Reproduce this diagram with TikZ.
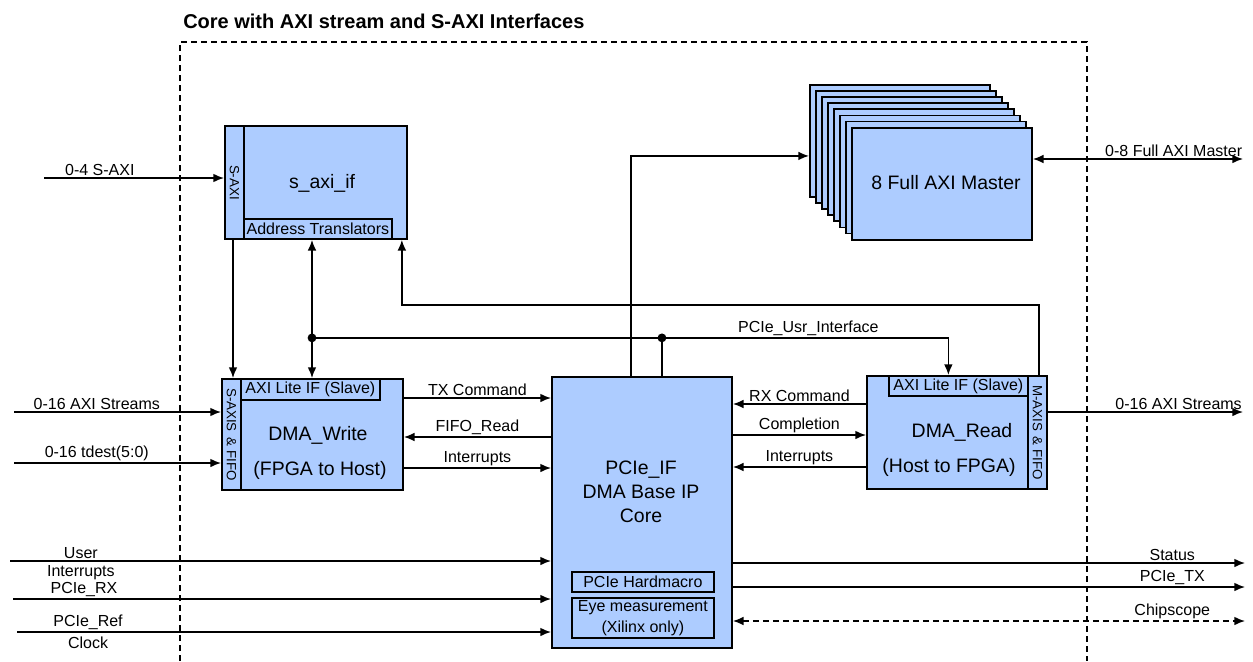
\documentclass[tikz,border=0pt]{standalone}
\usepackage{fontspec}
\setmainfont{Liberation Sans}
\usetikzlibrary{arrows.meta,calc,positioning}
\definecolor{blockblue}{RGB}{173,204,255}
\newcommand{\lblfont}{\fontsize{12}{15.5}\selectfont}
\newcommand{\bigfont}{\fontsize{14.6}{18}\selectfont}
\newcommand{\stripfont}{\fontsize{10}{12}\selectfont}
\tikzstyle{block} = [rectangle, draw, fill=blockblue, line width=1.4pt,
    inner sep=0pt, anchor=north west]
\tikzstyle{subbox} = [rectangle, draw, line width=1.3pt, inner sep=0pt,
    anchor=north west, font=\lblfont]
\tikzstyle{line} = [draw, line width=1.1pt, -{Latex[length=8pt,width=6.5pt]}]
\tikzstyle{dline} = [line, {Latex[length=8pt,width=6.5pt]}-{Latex[length=8pt,width=6.5pt]}]
\tikzstyle{lbl} = [font=\lblfont, inner sep=1pt]
\tikzstyle{border} = [draw, line width=1pt, dash pattern=on 4.5pt off 3pt]

\begin{document}
\begin{tikzpicture}[x=0.75pt, y=-0.75pt]
    \useasboundingbox (0,0) rectangle (1253,661);
    % Frame and title
    \draw[border] (180,661) -- (180,42) -- (1087,42) -- (1087,661);
    \node[anchor=west, inner sep=0pt, font=\fontsize{15}{18}\selectfont\bfseries] (title) at (183,21)
        {Core with AXI stream and S-AXI Interfaces};
    % s_axi_if
    \node[block, minimum width=136.5pt, minimum height=84.75pt] (saxi) at (224,125) {};
    \node[block, minimum width=14.25pt, minimum height=84.75pt] (saxis) at (224,125) {};
    \node[font=\stripfont, rotate=-90] at (saxis.center) {S-AXI};
    \node[subbox, minimum width=111pt, minimum height=15pt] (addr) at (243,218) {Address Translators};
    \node[font=\bigfont] at (322,183) {s\_axi\_if};
    % Full AXI master stack
    \foreach \i in {0,...,7}
        \node[block, minimum width=135pt, minimum height=84pt] (m\i) at ({809+6*\i},{84+6.1*\i}) {};
    \node[font=\bigfont] at (946,183) {8 Full AXI Master};
    % DMA_Write
    \node[block, minimum width=135.75pt, minimum height=83.25pt] (wr) at (221,378) {};
    \node[block, minimum width=14.25pt, minimum height=83.25pt] (wrs) at (221,378) {};
    \node[font=\stripfont, rotate=-90] at (wrs.center) {S-AXIS \,\& FIFO};
    \node[subbox, minimum width=104.25pt, minimum height=15.75pt] (wrlite) at (240,378) {AXI Lite IF (Slave)};
    \node[font=\bigfont] at (318,435) {DMA\_Write};
    \node[font=\bigfont] at (320,470) {(FPGA to Host)};
    % PCIe_IF
    \node[block, minimum width=135pt, minimum height=203.25pt] (pcie) at (551,376) {};
    \node[font=\bigfont, align=center] at (641,492) {PCIe\_IF\\DMA Base IP\\Core};
    \node[subbox, minimum width=106.5pt, minimum height=15pt] (hard) at (571,571) {PCIe Hardmacro};
    \node[subbox, minimum width=106.5pt, minimum height=30pt, align=center] (eye) at (571,597)
        {Eye measurement\\(Xilinx only)};
    % DMA_Read
    \node[block, minimum width=135pt, minimum height=84.75pt] (rd) at (866,375) {};
    \node[block, minimum width=14.25pt, minimum height=84.75pt] (rds) at (1027,375) {};
    \node[font=\stripfont, rotate=-90] at (rds.center) {M-AXIS \,\& FIFO};
    \node[subbox, minimum width=104.25pt, minimum height=15pt] (rdlite) at (888,375) {AXI Lite IF (Slave)};
    \node[font=\bigfont] at (962,432) {DMA\_Read};
    \node[font=\bigfont] at (949,467) {(Host to FPGA)};

    % DMA_Write <-> PCIe_IF
    \coordinate (tx) at ($(wr.north east)+(0,20)$);
    \coordinate (ff) at ($(wr.north east)+(0,59)$);
    \coordinate (wi) at ($(wr.north east)+(0,90)$);
    \path[line] (tx) -- (tx -| pcie.west) node[lbl, midway, above] {TX Command};
    \path[line] (ff -| pcie.west) -- (ff) node[lbl, midway, above] {FIFO\_Read};
    \path[line] (wi) -- (wi -| pcie.west) node[lbl, midway, above] {Interrupts};
    % DMA_Read <-> PCIe_IF
    \coordinate (rx) at ($(rd.north west)+(0,29)$);
    \coordinate (cp) at ($(rd.north west)+(0,60)$);
    \coordinate (ri) at ($(rd.north west)+(0,92)$);
    \path[line] (rx) -- (rx -| pcie.east) node[lbl, midway, above] {RX Command};
    \path[line] (cp -| pcie.east) -- (cp) node[lbl, midway, above] {Completion};
    \path[line] (ri) -- (ri -| pcie.east) node[lbl, midway, above] {Interrupts};

    % s_axi_if links and user interface bus
    \coordinate (sdn) at ($(saxi.south west)+(9,0)$);
    \path[line] (sdn) -- (sdn |- wr.north);
    \coordinate (usr) at ($(saxi.south west)+(88,98)$);
    \path[line] (usr) -- (usr |- saxi.south);
    \path[line] (usr) -- (usr |- wr.north);
    \coordinate (rdin) at ($(rdlite.north)+(-10,0)$);
    \path[line] (usr) -| (rdin) node[lbl, pos=0.39, above] {PCIe\_Usr\_Interface};
    \coordinate (pjt) at ($(pcie.north)+(20,0)$);
    \draw[line width=1.1pt] (pjt) -- (pjt |- usr);
    \fill (usr) circle (3.3pt);
    \fill (pjt |- usr) circle (3.3pt);
    % DMA_Read back to s_axi_if
    \coordinate (rdup) at ($(rd.north east)+(-9,0)$);
    \coordinate (sup) at ($(saxi.south east)+(-6,0)$);
    \path[line] (rdup) |- ($(sup)+(0,65)$) -- (sup);
    % PCIe_IF to masters
    \coordinate (pmt) at ($(pcie.north)+(-11,0)$);
    \path[line] (pmt) |- ($(m0.west)+(0,15)$);

    % Outside ports, right
    \coordinate (mout) at (1243,159);
    \path[dline] (mout -| m7.east) -- (mout) node[lbl, pos=0.67, above] {0-8 Full AXI Master};
    \coordinate (sout) at (1243,412);
    \path[line] (sout -| rd.east) -- (sout) node[lbl, pos=0.67, above] {0-16 AXI Streams};
    % Outside ports, left
    \coordinate (sain) at (44,178);
    \path[line] (sain) -- (sain -| saxi.west) node[lbl, pos=0.31, above] {0-4 S-AXI};
    \coordinate (asin) at (14,412);
    \path[line] (asin) -- (asin -| wr.west) node[lbl, pos=0.4, above] {0-16 AXI Streams};
    \coordinate (tdin) at (14,463);
    \path[line] (tdin) -- (tdin -| wr.west) node[lbl, pos=0.4, above] {0-16 tdest(5:0)};
    % PCIe_IF inputs
    \coordinate (uin) at (10,561);
    \path[line] (uin) -- (uin -| pcie.west) node[lbl, pos=0.131, above] {User}
        node[lbl, pos=0.131, below=2pt] {Interrupts};
    \coordinate (rxin) at (13,599);
    \path[line] (rxin) -- (rxin -| pcie.west) node[lbl, pos=0.132, above] {PCIe\_RX};
    \coordinate (clk) at (17,632);
    \path[line] (clk) -- (clk -| pcie.west) node[lbl, pos=0.133, above] {PCIe\_Ref}
        node[lbl, pos=0.133, below=2pt] {Clock};
    % PCIe_IF outputs
    \coordinate (stout) at (1245,563);
    \path[line] (stout -| pcie.east) -- (stout) node[lbl, pos=0.858, above] {Status};
    \coordinate (txout) at (1245,587);
    \path[line] (txout -| pcie.east) -- (txout) node[lbl, pos=0.858, above] {PCIe\_TX};
    \coordinate (csout) at (1245,621);
    \path[dline, dash pattern=on 4.5pt off 3pt] (csout -| pcie.east) -- (csout)
        node[lbl, pos=0.858, above] {Chipscope};
\end{tikzpicture}
\end{document}
